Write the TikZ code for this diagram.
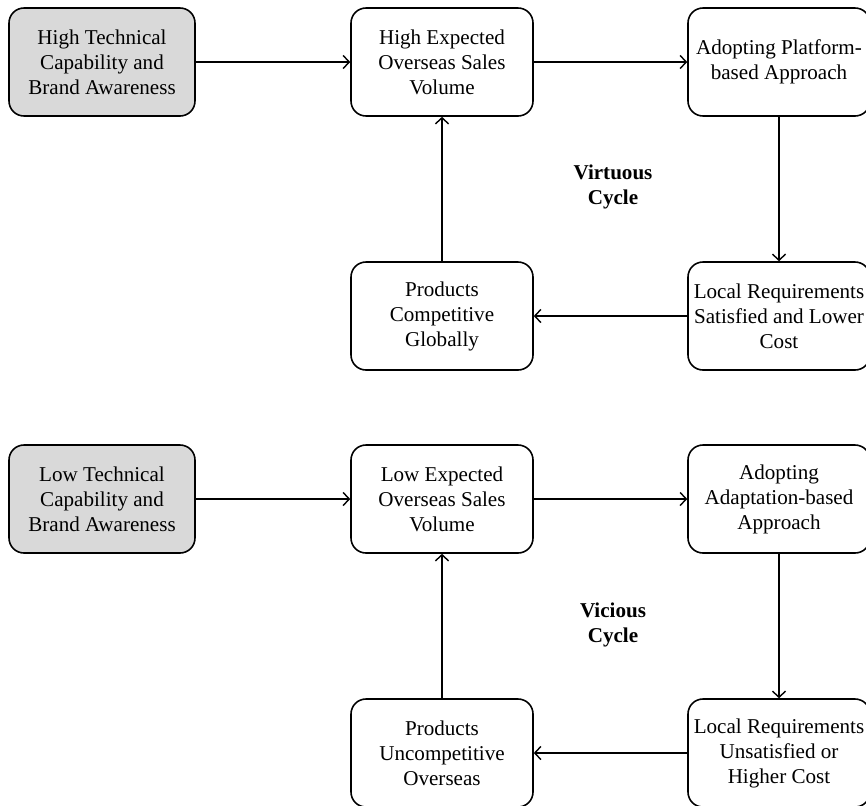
\documentclass[tikz,border=0pt]{standalone}
\usepackage{fontspec}
\setmainfont{Liberation Serif}
\usetikzlibrary{arrows.meta}
\begin{document}
\begin{tikzpicture}[
	box/.style={draw,line width=0.9pt,rounded corners=0.3cm,minimum width=3.64cm,minimum height=2.16cm,align=center,inner sep=2pt,font=\fontsize{12}{14.2}\selectfont},
	startbox/.style={box,fill=black!15,minimum width=3.72cm},
	arr/.style={line width=0.8pt,-{Straight Barb[length=3.5pt,width=7.5pt]}},
	cyclename/.style={align=center,font=\fontsize{12}{14.2}\selectfont\bfseries}]
		\useasboundingbox (0,0) rectangle (17.32,-16.1);
		% virtuous cycle
		\node[startbox] (hightech) at (2.04,-1.24) {High Technical\\Capability and\\Brand Awareness};
		\node[box] (highsales) at (8.84,-1.24) {High Expected\\Overseas Sales\\Volume};
		\node[box] (platform) at (15.58,-1.24) {Adopting Platform-\\based Approach};
		\node[box] (satisfied) at (15.58,-6.32) {Local Requirements\\Satisfied and Lower\\Cost};
		\node[box] (competitive) at (8.84,-6.32) {Products\\Competitive\\Globally};
		\node[cyclename] (virtuous) at (12.26,-3.74) {Virtuous\\Cycle};
		\draw[arr] (hightech) -- (highsales);
		\draw[arr] (highsales) -- (platform);
		\draw[arr] (platform) -- (satisfied);
		\draw[arr] (satisfied) -- (competitive);
		\draw[arr] (competitive) -- (highsales);
		% vicious cycle
		\node[startbox] (lowtech) at (2.04,-9.98) {Low Technical\\Capability and\\Brand Awareness};
		\node[box] (lowsales) at (8.84,-9.98) {Low Expected\\Overseas Sales\\Volume};
		\node[box] (adaptation) at (15.58,-9.98) {Adopting\\Adaptation-based\\Approach};
		\node[box] (unsatisfied) at (15.58,-15.06) {Local Requirements\\Unsatisfied or\\Higher Cost};
		\node[box] (uncompetitive) at (8.84,-15.06) {Products\\Uncompetitive\\Overseas};
		\node[cyclename] (vicious) at (12.26,-12.5) {Vicious\\Cycle};
		\draw[arr] (lowtech) -- (lowsales);
		\draw[arr] (lowsales) -- (adaptation);
		\draw[arr] (adaptation) -- (unsatisfied);
		\draw[arr] (unsatisfied) -- (uncompetitive);
		\draw[arr] (uncompetitive) -- (lowsales);
\end{tikzpicture}
\end{document}
